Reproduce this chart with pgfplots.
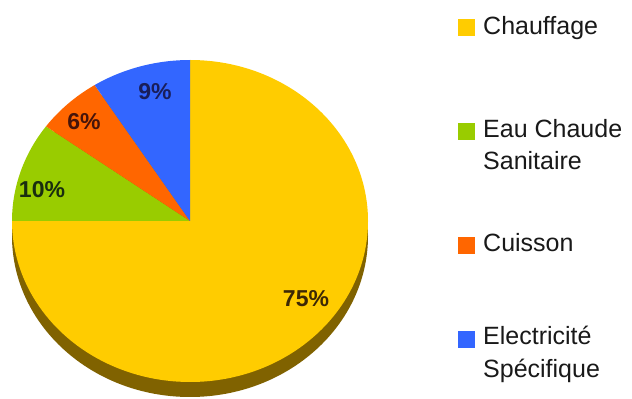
\documentclass[border=0pt]{standalone}
\usepackage{fontspec}
\setmainfont{Liberation Sans}
\usepackage{pgfplots}
\pgfplotsset{compat=1.18}
\definecolor{cYellow}{RGB}{255,204,0}
\definecolor{cGreen}{RGB}{153,204,0}
\definecolor{cOrange}{RGB}{255,102,0}
\definecolor{cBlue}{RGB}{51,102,255}
\definecolor{cShadow}{RGB}{128,98,0}
\definecolor{tYellow}{RGB}{60,40,5}
\definecolor{tGreen}{RGB}{25,45,15}
\definecolor{tOrange}{RGB}{70,20,10}
\definecolor{tBlue}{RGB}{25,30,90}
% values (percent)
\def\vA{75}% Chauffage
\def\vB{10}% Eau Chaude Sanitaire
\def\vC{6}% Cuisson
\def\vD{9}% Electricite Specifique
\pgfmathsetmacro\aS{90}
\pgfmathsetmacro\aA{\aS-3.6*\vA}
\pgfmathsetmacro\aB{\aA-3.6*\vB}
\pgfmathsetmacro\aC{\aB-3.6*\vC}
\pgfmathsetmacro\aD{\aC-3.6*\vD}
\begin{document}
\begin{tikzpicture}
\begin{axis}[width=632pt,height=399pt,scale only axis,
  xmin=0,xmax=632,ymin=0,ymax=399,hide axis,clip=false]
\path (axis cs:0,0) rectangle (axis cs:632,399);
% depth
\fill[cShadow] (axis cs:190,163) ellipse[x radius=178pt,y radius=161pt];
% wedges
\fill[cYellow] (axis cs:190,178) -- +(\aS:178pt and 161pt)
   arc[start angle=\aS,end angle=\aA,x radius=178pt,y radius=161pt] -- cycle;
\fill[cGreen] (axis cs:190,178) -- +(\aA:178pt and 161pt)
   arc[start angle=\aA,end angle=\aB,x radius=178pt,y radius=161pt] -- cycle;
\fill[cOrange] (axis cs:190,178) -- +(\aB:178pt and 161pt)
   arc[start angle=\aB,end angle=\aC,x radius=178pt,y radius=161pt] -- cycle;
\fill[cBlue] (axis cs:190,178) -- +(\aC:178pt and 161pt)
   arc[start angle=\aC,end angle=\aD,x radius=178pt,y radius=161pt] -- cycle;
% slice labels
\node[font=\fontsize{23}{23}\selectfont\bfseries,text=tBlue] at (axis cs:155,307) {\vD\%};
\node[font=\fontsize{23}{23}\selectfont\bfseries,text=tOrange] at (axis cs:84,277) {\vC\%};
\node[font=\fontsize{23}{23}\selectfont\bfseries,text=tGreen] at (axis cs:42,209) {\vB\%};
\node[font=\fontsize{23}{23}\selectfont\bfseries,text=tYellow] at (axis cs:306,100) {\vA\%};
% legend
\fill[cYellow] (axis cs:458,363) rectangle (axis cs:475,380);
\fill[cGreen] (axis cs:458,259) rectangle (axis cs:475,276);
\fill[cOrange] (axis cs:458,145) rectangle (axis cs:475,162);
\fill[cBlue] (axis cs:458,51) rectangle (axis cs:475,68);
\begin{scope}[every node/.style={anchor=base west,inner sep=0pt,font=\fontsize{25}{30}\selectfont,text=black!90}]
\node at (axis cs:483,364) {Chauffage};
\node at (axis cs:483,261) {Eau Chaude};
\node at (axis cs:483,229) {Sanitaire};
\node at (axis cs:483,147) {Cuisson};
\node at (axis cs:483,54) {Electricité};
\node at (axis cs:483,21) {Spécifique};
\end{scope}
\end{axis}
\end{tikzpicture}
\end{document}
